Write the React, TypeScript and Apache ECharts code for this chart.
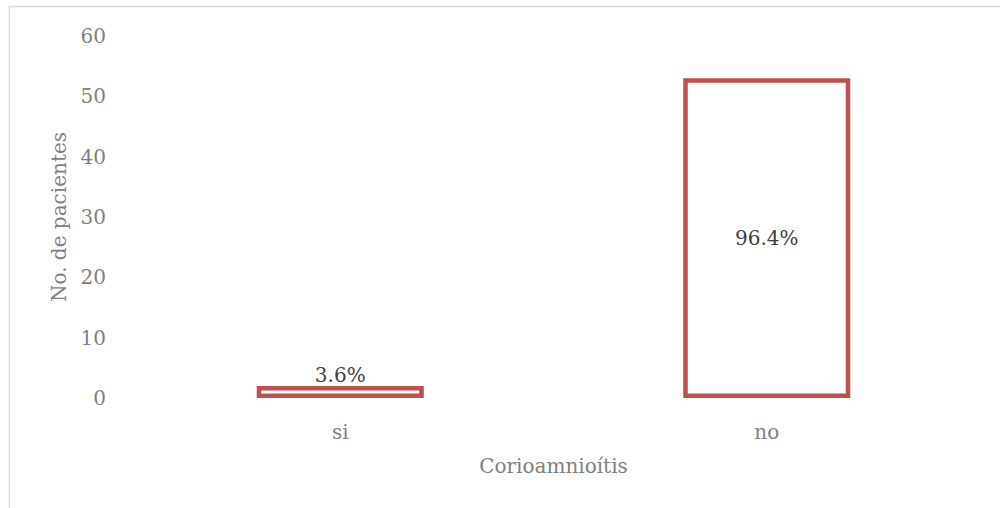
import React, { useEffect, useRef } from "react";
import * as echarts from "echarts";

const categories = ["si", "no"];
const values = [2, 53];
const percentLabels = ["3.6%", "96.4%"];
const yTicks = [0, 10, 20, 30, 40, 50, 60];

const FONT = "DejaVu Serif";
const FS = 20;

export default function App() {
  const ref = useRef<HTMLDivElement>(null);
  useEffect(() => {
    if (!ref.current) return;
    const chart = echarts.init(ref.current, null, { renderer: "svg" });
    chart.setOption({
      animation: false,
      backgroundColor: "#ffffff",
      graphic: [
        {
          type: "rect",
          shape: { x: 9.5, y: 6.5, width: 1000, height: 600 },
          style: { fill: "none", stroke: "#d9d9d9", lineWidth: 1.5 },
          silent: true,
        },
      ],
      grid: { left: 127, right: 20, top: 36, bottom: 110, containLabel: false },
      xAxis: {
        type: "category",
        data: categories,
        name: "Corioamnioítis",
        nameLocation: "middle",
        nameGap: 58,
        nameTextStyle: { fontFamily: FONT, fontSize: FS, color: "#7f7f7f" },
        axisLine: { show: false },
        axisTick: { show: false },
        axisLabel: { fontFamily: FONT, fontSize: FS, color: "#7f7f7f", margin: 24 },
      },
      yAxis: {
        type: "value",
        min: yTicks[0],
        max: yTicks[yTicks.length - 1],
        interval: 10,
        name: "No. de pacientes",
        nameLocation: "middle",
        nameGap: 58,
        nameTextStyle: { fontFamily: FONT, fontSize: FS, color: "#7f7f7f" },
        axisLine: { show: false },
        axisTick: { show: false },
        splitLine: { show: false },
        axisLabel: { fontFamily: FONT, fontSize: FS, color: "#7f7f7f", margin: 21, align: "right" },
      },
      series: [
        {
          type: "bar",
          barWidth: 167,
          data: values.map((v, i) => ({
            value: v,
            label: {
              show: true,
              position: i === 0 ? "top" : "inside",
              distance: 1,
              formatter: percentLabels[i],
              fontFamily: FONT,
              fontSize: FS,
              color: "#404040",
            },
          })),
          itemStyle: { color: "#ffffff", borderColor: "#C0504D", borderWidth: 4.5 },
        },
      ],
    });
    return () => chart.dispose();
  }, []);
  return (
    <div
      ref={ref}
      style={{ position: "fixed", left: 0, top: 0, width: 1000, height: 508 }}
    />
  );
}
